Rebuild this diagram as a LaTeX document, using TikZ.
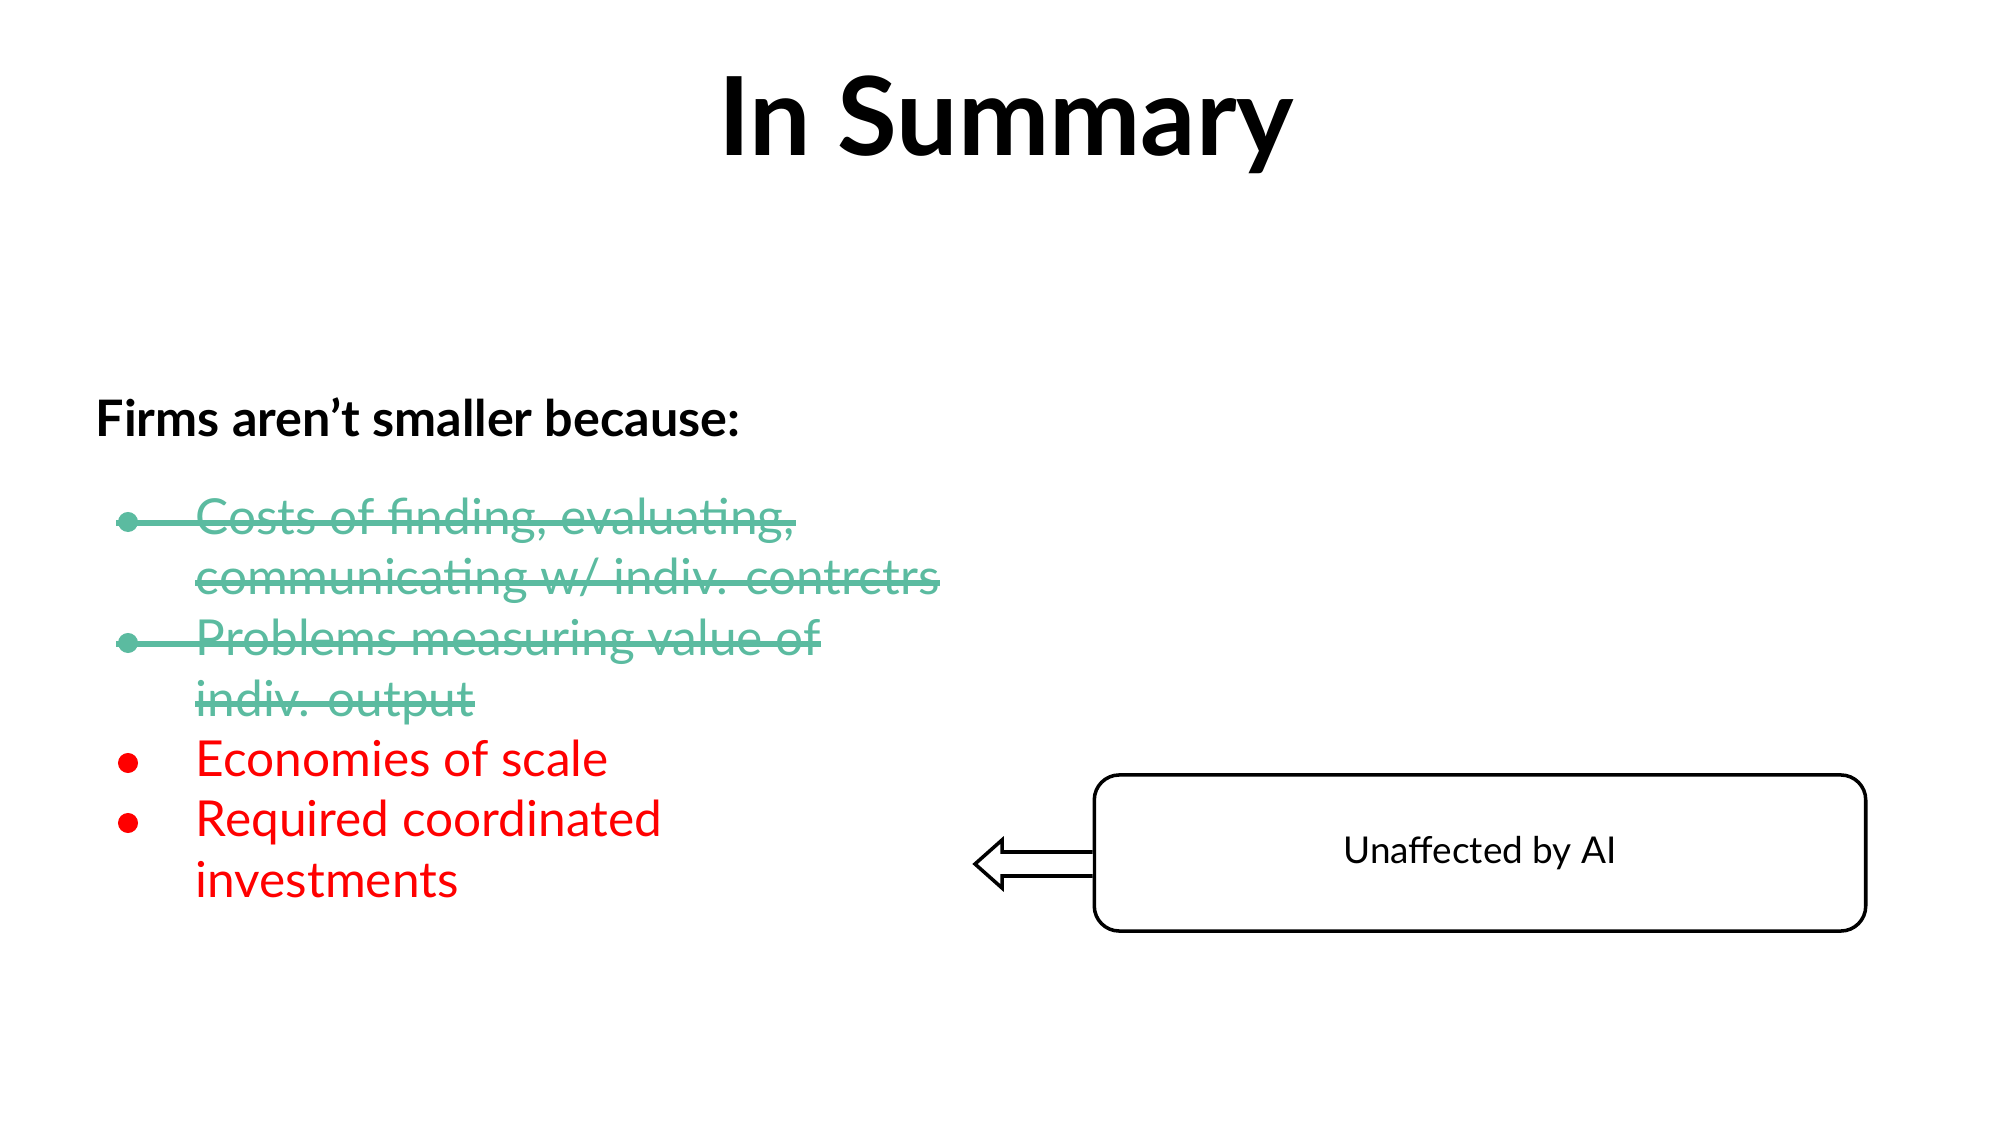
\documentclass[tikz,border=0pt]{standalone}
\usepackage{fontspec}
\setmainfont{Lato}
\definecolor{teal2}{HTML}{5BBBA0}
\definecolor{red2}{HTML}{FF0000}
\begin{document}
\begin{tikzpicture}[x=0.01cm,y=-0.01cm,
  item/.style={anchor=base west,inner sep=0,font=\fontsize{14.1}{17}\selectfont},
  dot/.style={circle,fill,inner sep=0,minimum size=0.2cm}]
\useasboundingbox (0,0) rectangle (2000,1125);
\node[font=\fontsize{31}{37}\selectfont\bfseries] (title) at (1006,125) {In Summary};
\node[anchor=base west,inner sep=0,font=\fontsize{14.3}{17}\selectfont\bfseries] (head) at (95,437) {Firms aren’t smaller because:};
\node[item,text=teal2] (a1) at (195,535) {Costs of finding, evaluating,};
\node[item,text=teal2] (a2) at (195,595) {communicating w/ indiv. contrctrs};
\node[item,text=teal2] (b1) at (195,656) {Problems measuring value of};
\node[item,text=teal2] (b2) at (195,716) {indiv. output};
\node[item,text=red2] (c1) at (195,776) {Economies of scale};
\node[item,text=red2] (d1) at (195,837) {Required coordinated};
\node[item,text=red2] (d2) at (195,897) {investments};
\node[dot,teal2] (da) at (128,522) {};
\node[dot,teal2] (db) at (128,643) {};
\node[dot,red2] (dc) at (128,763) {};
\node[dot,red2] (dd) at (128,823) {};
\draw[teal2,line width=1.6pt] (116,523) -- (a1.east|-0,523);
\draw[teal2,line width=1.6pt] (195,583) -- (a2.east|-0,583);
\draw[teal2,line width=1.6pt] (116,644) -- (b1.east|-0,644);
\draw[teal2,line width=1.6pt] (195,704) -- (b2.east|-0,704);
\node[draw,line width=1pt,rounded corners=0.25cm,minimum width=7.71cm,minimum height=1.56cm,font=\fontsize{10.5}{12}\selectfont] (box) at (1480,853) {Unaffected by AI};
\draw[line width=1pt,fill=white] (box.west|-0,852) -- (1002,852) -- (1002,840) -- (975,864) -- (1002,888) -- (1002,876) -- (box.west|-0,876);
\end{tikzpicture}
\end{document}
